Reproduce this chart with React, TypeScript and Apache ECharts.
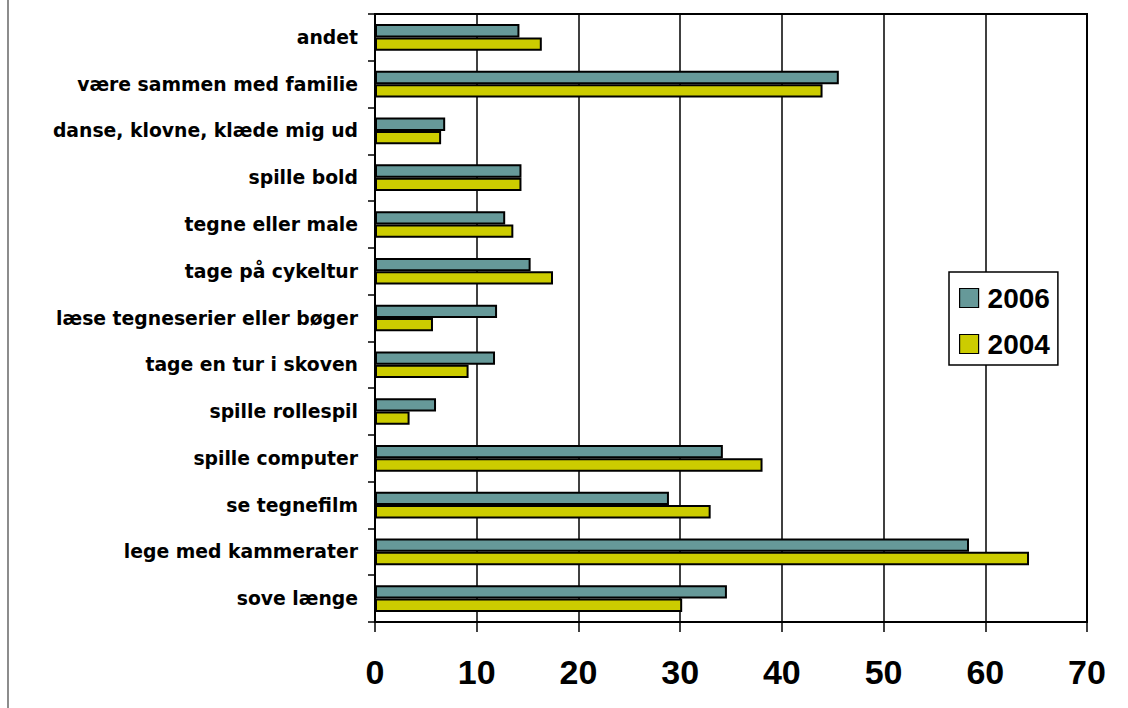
import React, { useEffect, useRef } from "react";
import * as echarts from "echarts";

// Activities, listed top to bottom
const categories = [
  "andet",
  "være sammen med familie",
  "danse, klovne, klæde mig ud",
  "spille bold",
  "tegne eller male",
  "tage på cykeltur",
  "læse tegneserier eller bøger",
  "tage en tur i skoven",
  "spille rollespil",
  "spille computer",
  "se tegnefilm",
  "lege med kammerater",
  "sove længe",
];

const values2006 = [14.2, 45.6, 6.9, 14.4, 12.8, 15.3, 12.0, 11.8, 6.0, 34.2, 28.9, 58.4, 34.6];
const values2004 = [16.4, 44.0, 6.5, 14.4, 13.6, 17.5, 5.7, 9.2, 3.4, 38.1, 33.0, 64.3, 30.2];

const xTicks = { min: 0, max: 70, interval: 10 };

export default function App() {
  const ref = useRef<HTMLDivElement>(null);

  useEffect(() => {
    if (!ref.current) return;
    const chart = echarts.init(ref.current, null, { renderer: "svg" });

    const barBorder = { borderColor: "#000", borderWidth: 2 };

    chart.setOption({
      animation: false,
      backgroundColor: "#fff",
      grid: {
        left: 375,
        top: 14,
        width: 712,
        height: 608,
        show: true,
        borderColor: "#000",
        borderWidth: 2,
        backgroundColor: "transparent",
      },
      legend: {
        data: ["2006", "2004"],
        orient: "vertical",
        left: 949,
        top: 272,
        padding: [12, 8, 7, 10],
        itemGap: 18,
        itemWidth: 19,
        itemHeight: 19,
        icon: "rect",
        backgroundColor: "#fff",
        borderColor: "#000",
        borderWidth: 1.5,
        itemStyle: { borderColor: "#000", borderWidth: 1.2 },
        textStyle: {
          fontFamily: "Liberation Sans, Arial, sans-serif",
          fontWeight: "bold",
          fontSize: 28,
          color: "#000",
          padding: [0, 0, 0, 4],
        },
      },
      xAxis: {
        type: "value",
        min: xTicks.min,
        max: xTicks.max,
        interval: xTicks.interval,
        axisLine: { show: true, lineStyle: { color: "#000", width: 2 } },
        axisTick: { show: true, length: 10, lineStyle: { color: "#000", width: 1.5 } },
        splitLine: { show: true, lineStyle: { color: "#000", width: 1.5 } },
        axisLabel: {
          margin: 33,
          color: "#000",
          fontFamily: "Liberation Sans Narrow, Liberation Sans, Arial, sans-serif",
          fontWeight: "bold",
          fontSize: 34,
        },
      },
      yAxis: {
        type: "category",
        inverse: true,
        data: categories,
        axisLine: { show: true, lineStyle: { color: "#000", width: 2 } },
        axisTick: { show: true, length: 7, lineStyle: { color: "#000", width: 1.5 } },
        splitLine: { show: false },
        axisLabel: {
          margin: 17,
          color: "#000",
          fontFamily: "DejaVu Sans, sans-serif",
          fontWeight: "bold",
          fontSize: 18.8,
        },
      },
      series: [
        {
          name: "2006",
          type: "bar",
          data: values2006,
          barGap: "0%",
          barCategoryGap: "43%",
          itemStyle: { color: "#669999", ...barBorder },
        },
        {
          name: "2004",
          type: "bar",
          data: values2004,
          barGap: "0%",
          barCategoryGap: "43%",
          itemStyle: { color: "#CCCC00", ...barBorder },
        },
      ],
      graphic: [
        {
          type: "line",
          shape: { x1: 8, y1: 0, x2: 8, y2: 708 },
          style: { stroke: "#707070", lineWidth: 1.6 },
        },
      ],
    });

    return () => chart.dispose();
  }, []);

  return (
    <div
      ref={ref}
      style={{ position: "absolute", left: 0, top: 0, width: 1128, height: 708 }}
    />
  );
}
